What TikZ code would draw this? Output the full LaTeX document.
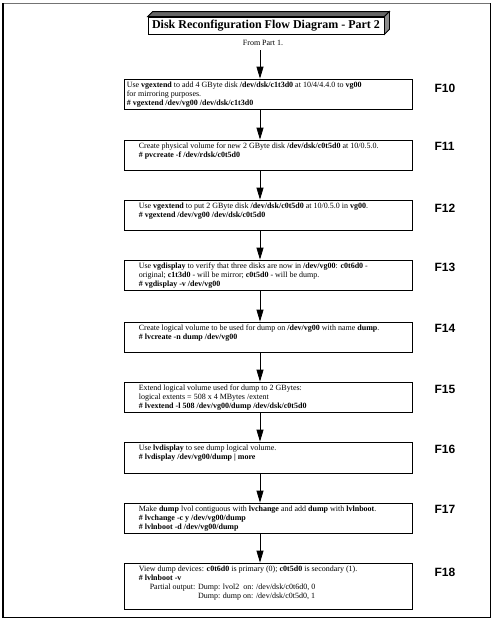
\documentclass[tikz,border=0pt]{standalone}
\usepackage{fontspec}
\setmainfont{Liberation Serif}
\newfontfamily\labelfont{Liberation Sans}
\usetikzlibrary{arrows.meta,positioning}

\tikzset{
  stepbox/.style={draw, line width=0.8pt, minimum width=288pt, minimum height=30pt, inner sep=0pt},
  steptext/.style={anchor=north west, align=left, inner sep=0pt, font=\fontsize{8}{9}\selectfont},
  steplabel/.style={anchor=west, inner sep=0pt, font=\labelfont\bfseries\fontsize{12}{12}\selectfont},
  flow/.style={line width=0.8pt, -{Triangle[length=12pt,width=7pt]}}
}

\begin{document}
\begin{tikzpicture}[x=1pt, y=-1pt]
	\useasboundingbox (0,0) rectangle (495,621);
	% outer frame
	\draw [line width=0.7pt, black!55] (3,3) -- (490.5,3);
	\draw [line width=1.6pt] (3,3) -- (3,617.5) -- (490.5,617.5) -- (490.5,3);

	% title block
	\node [draw, fill=white, line width=0.8pt, minimum width=236pt, minimum height=17pt, inner sep=0pt,
	       font=\bfseries\fontsize{12}{12}\selectfont] (title) at (266,25.5) {Disk Reconfiguration Flow Diagram - Part 2};
	\draw [line width=0.8pt, fill=black!60] (title.north west) -- ++(5,-5) -- ([shift={(5,-5)}]title.north east) -- (title.north east) -- cycle;
	\draw [line width=0.8pt, fill=black!45] (title.north east) -- ++(5,-5) -- ([shift={(5,-5)}]title.south east) -- (title.south east) -- cycle;
	\node [font=\fontsize{8}{9}\selectfont, inner sep=1pt] (from) at (263,43) {From Part 1.};
	\coordinate (spine) at (260,50);

	% steps
	\node [stepbox] (f10) at (268,94) {};
	\node [stepbox] (f11) at (268,155) {};
	\node [stepbox] (f12) at (268,215) {};
	\node [stepbox] (f13) at (268,275) {};
	\node [stepbox] (f14) at (268,337) {};
	\node [stepbox] (f15) at (268,397) {};
	\node [stepbox, minimum height=31pt] (f16) at (268,457.5) {};
	\node [stepbox] (f17) at (268,518) {};
	\node [stepbox, minimum height=46pt] (f18) at (268,586) {};

	\node [steptext] (t10) at ([shift={(3,3)}]f10.north west) {Use \textbf{vgextend} to add 4 GByte disk \textbf{/dev/dsk/c1t3d0} at 10/4/4.4.0 to \textbf{vg00}\\
		for mirroring purposes.\\
		\textbf{\# vgextend /dev/vg00 /dev/dsk/c1t3d0}};
	\node [steptext] (t11) at ([shift={(15,3)}]f11.north west) {Create physical volume for new 2 GByte disk \textbf{/dev/dsk/c0t5d0} at 10/0.5.0.\\
		\textbf{\# pvcreate -f /dev/rdsk/c0t5d0}};
	\node [steptext] (t12) at ([shift={(15,3)}]f12.north west) {Use \textbf{vgextend} to put 2 GByte disk \textbf{/dev/dsk/c0t5d0} at 10/0.5.0 in \textbf{vg00}.\\
		\textbf{\# vgextend /dev/vg00 /dev/dsk/c0t5d0}};
	\node [steptext] (t13) at ([shift={(15,3)}]f13.north west) {Use \textbf{vgdisplay} to verify that three disks are now in \textbf{/dev/vg00}: \textbf{c0t6d0} -\\
		original; \textbf{c1t3d0} - will be mirror; \textbf{c0t5d0} - will be dump.\\
		\textbf{\# vgdisplay -v /dev/vg00}};
	\node [steptext] (t14) at ([shift={(15,3)}]f14.north west) {Create logical volume to be used for dump on \textbf{/dev/vg00} with name \textbf{dump}.\\
		\textbf{\# lvcreate -n dump /dev/vg00}};
	\node [steptext] (t15) at ([shift={(15,3)}]f15.north west) {Extend logical volume used for dump to 2 GBytes:\\
		logical extents = 508 x 4 MBytes /extent\\
		\textbf{\# lvextend -l 508 /dev/vg00/dump /dev/dsk/c0t5d0}};
	\node [steptext] (t16) at ([shift={(15,3)}]f16.north west) {Use \textbf{lvdisplay} to see dump logical volume.\\
		\textbf{\# lvdisplay /dev/vg00/dump | more}};
	\node [steptext] (t17) at ([shift={(15,3)}]f17.north west) {Make \textbf{dump} lvol contiguous with \textbf{lvchange} and add \textbf{dump} with \textbf{lvlnboot}.\\
		\textbf{\# lvchange -c y /dev/vg00/dump}\\
		\textbf{\# lvlnboot -d /dev/vg00/dump}};
	\node [steptext] (t18) at ([shift={(15,3)}]f18.north west) {View dump devices: \textbf{c0t6d0} is primary (0); \textbf{c0t5d0} is secondary (1).\\
		\textbf{\# lvlnboot -v}\\
		\hspace*{11pt}Partial output: Dump: lvol2\ \ on: /dev/dsk/c0t6d0, 0\\
		\hspace*{11pt}\phantom{Partial output: }Dump: dump on: /dev/dsk/c0t5d0, 1};

	% step labels
	\node [steplabel] (l10) at ([shift={(22,10)}]f10.north east) {F10};
	\node [steplabel] (l11) at ([shift={(22,7)}]f11.north east) {F11};
	\node [steplabel] (l12) at ([shift={(22,9)}]f12.north east) {F12};
	\node [steplabel] (l13) at ([shift={(22,8)}]f13.north east) {F13};
	\node [steplabel] (l14) at ([shift={(22,7)}]f14.north east) {F14};
	\node [steplabel] (l15) at ([shift={(22,8)}]f15.north east) {F15};
	\node [steplabel] (l16) at ([shift={(22,8)}]f16.north east) {F16};
	\node [steplabel] (l17) at ([shift={(22,7)}]f17.north east) {F17};
	\node [steplabel] (l18) at ([shift={(22,10)}]f18.north east) {F18};

	% arrows
	\draw [flow] (spine) -- (f10.north -| spine);
	\foreach \a/\b in {f10/f11, f11/f12, f12/f13, f13/f14, f14/f15, f15/f16, f16/f17, f17/f18}
		\draw [flow] (\a.south -| spine) -- (\b.north -| spine);
\end{tikzpicture}
\end{document}
